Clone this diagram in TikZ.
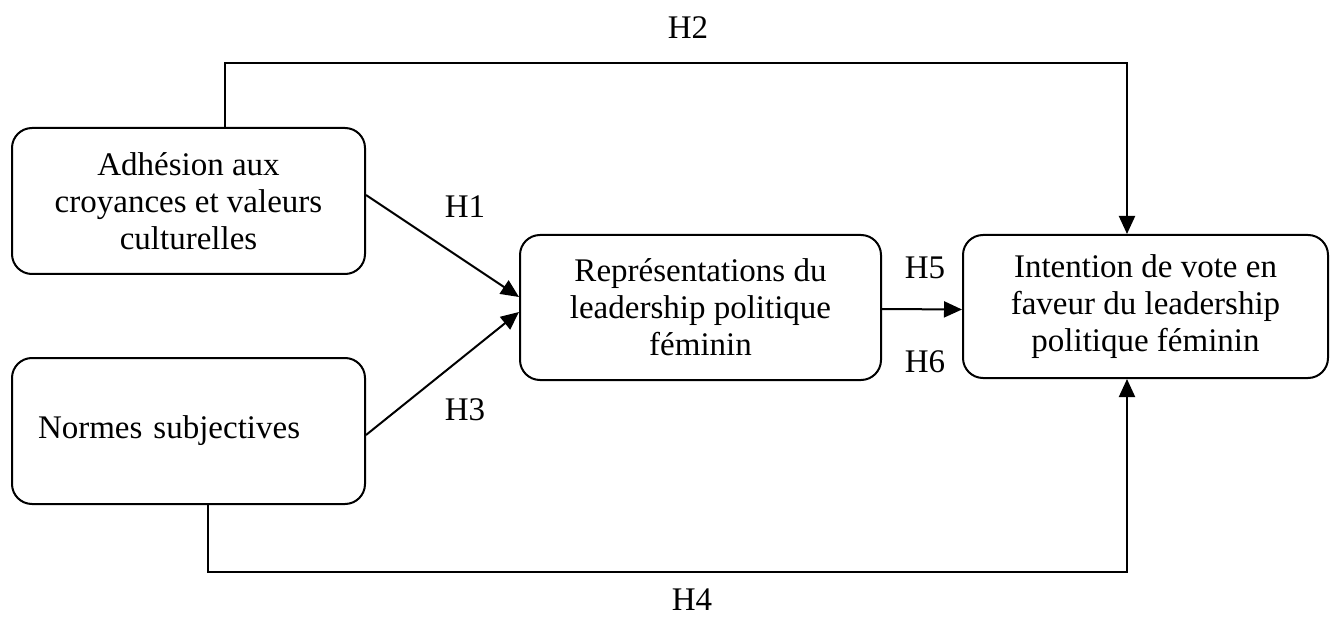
\documentclass[tikz,border=0pt]{standalone}
\usepackage{fontspec}
\setmainfont{Liberation Serif}
\usetikzlibrary{arrows.meta}
\begin{document}
\begin{tikzpicture}[x=1pt,y=-1pt,
  box/.style={draw, line width=2pt, rounded corners=20pt, align=center,
    font=\fontsize{33}{37}\selectfont, inner sep=0pt},
  lab/.style={font=\fontsize{33}{37}\selectfont, inner sep=0pt},
  arr/.style={line width=2pt, -{Triangle[length=18pt,width=16pt]}},
  conn/.style={line width=2pt}]
\useasboundingbox (0,0) rectangle (1333,628);
\node[box, minimum width=353pt, minimum height=146pt] (A) at (188.5,201)
  {Adhésion aux\\croyances et valeurs\\culturelles};
\node[box, text width=301pt, inner xsep=26pt, align=left, minimum height=146pt] (B) at (188.5,431)
  {Normes subjectives};
\node[box, minimum width=361pt, minimum height=145pt] (C) at (700.5,307.5)
  {Représentations du\\leadership politique\\féminin};
\node[box, minimum width=365pt, minimum height=143pt] (D) at (1145.5,306.5)
  {Intention de vote en\\faveur du leadership\\politique féminin};
\coordinate (h2a) at (225,63);
\coordinate (h2b) at (1127,63);
\coordinate (h4a) at (208,572);
\coordinate (h4b) at (1127,572);
\draw[arr] ([yshift=6pt]A.east) -- ([yshift=10.5pt]C.west);
\draw[arr] ([yshift=-4pt]B.east) -- ([yshift=-4.5pt]C.west);
\draw[arr] ([yshift=-1.5pt]C.east) -- ([yshift=-3pt]D.west);
\draw[arr] (A.north -| h2a) -- (h2a) -- (h2b) -- (h2b |- D.north);
\draw[arr] (B.south -| h4a) -- (h4a) -- (h4b) -- (h4b |- D.south);
\node[lab] (L2) at (688,28) {H2};
\node[lab] (L1) at (465,207) {H1};
\node[lab] (L3) at (465,410) {H3};
\node[lab] (L5) at (925,268) {H5};
\node[lab] (L6) at (925,362) {H6};
\node[lab] (L4) at (692,600) {H4};
\end{tikzpicture}
\end{document}
